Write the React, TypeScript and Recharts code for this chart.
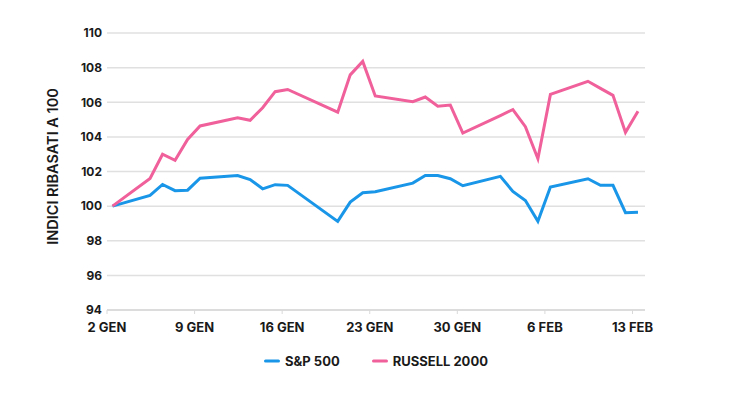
import React from 'react';
import { LineChart, Line, XAxis, YAxis, CartesianGrid, Legend } from 'recharts';

// trading days, Jan 2 - Feb 13 2026
const dates = [
  '2026-01-02', '2026-01-05', '2026-01-06', '2026-01-07', '2026-01-08', '2026-01-09',
  '2026-01-12', '2026-01-13', '2026-01-14', '2026-01-15', '2026-01-16',
  '2026-01-20', '2026-01-21', '2026-01-22', '2026-01-23',
  '2026-01-26', '2026-01-27', '2026-01-28', '2026-01-29', '2026-01-30',
  '2026-02-02', '2026-02-03', '2026-02-04', '2026-02-05', '2026-02-06',
  '2026-02-09', '2026-02-10', '2026-02-11', '2026-02-12', '2026-02-13',
];

const sp500 = [
  100, 100.62, 101.25, 100.89, 100.92, 101.61,
  101.77, 101.53, 101.0, 101.24, 101.2,
  99.12, 100.23, 100.77, 100.83,
  101.33, 101.77, 101.77, 101.58, 101.18,
  101.72, 100.85, 100.33, 99.12, 101.1,
  101.58, 101.2, 101.2, 99.62, 99.65,
];

const russell2000 = [
  100, 101.6, 103.0, 102.65, 103.85, 104.63,
  105.1, 104.96, 105.68, 106.61, 106.74,
  105.43, 107.58, 108.36, 106.36,
  106.03, 106.3, 105.77, 105.84, 104.22,
  105.23, 105.58, 104.59, 102.74, 106.45,
  107.21, 106.8, 106.4, 104.26, 105.48,
];

const xTickLabels = ['2 GEN', '9 GEN', '16 GEN', '23 GEN', '30 GEN', '6 FEB', '13 FEB'];
const yTicks = [94, 96, 98, 100, 102, 104, 106, 108, 110];

const SP_COLOR = '#1a96e8';
const RUT_COLOR = '#f0609a';
const FONT = 'Inter, sans-serif';

const DAY = 86400000;
const start = Date.UTC(2026, 0, 2);
// closes are stamped late in the day, so points sit a bit right of the midnight ticks
const CLOSE_OFFSET = 0.44;

const data = dates.map((d, i) => {
  const [y, m, dd] = d.split('-').map(Number);
  return {
    x: (Date.UTC(y, m - 1, dd) - start) / DAY + CLOSE_OFFSET,
    sp: sp500[i],
    rut: russell2000[i],
  };
});

const xTicks = xTickLabels.map((_, i) => i * 7);

const YTitle = (props: any) => {
  const vb = props.viewBox || {};
  const cx = vb.x + 5;
  const cy = vb.y + vb.height / 2 - 5;
  return (
    <text
      x={cx}
      y={cy}
      transform={`rotate(-90, ${cx}, ${cy})`}
      textAnchor="middle"
      dominantBaseline="central"
      fill="#1a1a1a"
      fontFamily={FONT}
      fontSize={14.5}
      fontWeight={600}
    >
      INDICI RIBASATI A 100
    </text>
  );
};

const LegendContent = () => {
  const items = [
    { label: 'S&P 500', color: SP_COLOR },
    { label: 'RUSSELL 2000', color: RUT_COLOR },
  ];
  return (
    <div style={{ display: 'flex', justifyContent: 'center', gap: 32, fontFamily: FONT }}>
      {items.map((it) => (
        <div key={it.label} style={{ display: 'flex', alignItems: 'center' }}>
          <svg width={16} height={6} style={{ marginRight: 5 }}>
            <line x1={1.5} y1={3} x2={14.5} y2={3} stroke={it.color} strokeWidth={3} strokeLinecap="round" />
          </svg>
          <span style={{ fontSize: 13, fontWeight: 700, color: '#1a1a1a' }}>{it.label}</span>
        </div>
      ))}
    </div>
  );
};

export default function App() {
  return (
    <div style={{ position: 'absolute', left: 0, top: 0, width: 736, height: 401, background: '#fff' }}>
      <LineChart width={736} height={401} data={data} margin={{ top: 33, right: 91, bottom: 30, left: 47 }}>
        <CartesianGrid vertical={false} stroke="#e0e0e0" strokeWidth={1.5} />
        <XAxis
          dataKey="x"
          type="number"
          domain={[0, 43]}
          ticks={xTicks}
          tickFormatter={(v: number) => xTickLabels[Math.round(v / 7)]}
          axisLine={{ stroke: '#d9d9d9', strokeWidth: 1.5 }}
          tickLine={{ stroke: '#d9d9d9' }}
          tickSize={4}
          tickMargin={9}
          height={30}
          interval={0}
          tick={{ fontFamily: FONT, fontSize: 13, fontWeight: 700, fill: '#1a1a1a' }}
        />
        <YAxis
          type="number"
          domain={[94, 110]}
          ticks={yTicks}
          width={60}
          axisLine={false}
          tickLine={false}
          tickSize={0}
          tickMargin={5}
          interval={0}
          tick={{ fontFamily: FONT, fontSize: 12, fontWeight: 700, fill: '#1a1a1a' }}
          label={{ content: <YTitle /> }}
        />
        <Legend
          verticalAlign="bottom"
          height={31}
          wrapperStyle={{ top: 353, left: 107, width: 538 }}
          content={<LegendContent />}
        />
        <Line
          type="linear"
          dataKey="sp"
          name="S&P 500"
          stroke={SP_COLOR}
          strokeWidth={3}
          dot={false}
          isAnimationActive={false}
        />
        <Line
          type="linear"
          dataKey="rut"
          name="RUSSELL 2000"
          stroke={RUT_COLOR}
          strokeWidth={3}
          dot={false}
          isAnimationActive={false}
        />
      </LineChart>
    </div>
  );
}
